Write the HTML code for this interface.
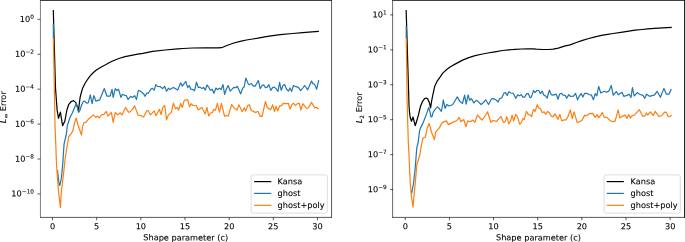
<!DOCTYPE html>
<html lang="en"><head><meta charset="utf-8"><title>Error vs shape parameter</title>
<style>html,body{margin:0;padding:0;background:#fff;}svg{display:block;}text{text-rendering:geometricPrecision;font-family:"DejaVu Sans","Liberation Sans",sans-serif;fill:#000;stroke:#000;stroke-width:0.1px;}.t{font-size:8.20px;} .s{font-size:5.74px;} .i{font-style:oblique;}.ln{fill:none;stroke-width:1.21;stroke-linejoin:round;stroke-linecap:butt;}.sp{fill:none;stroke:#000;stroke-width:0.65;stroke-linecap:square;}.tk{stroke:#000;stroke-width:0.65;}</style></head><body>
<svg width="685" height="242" viewBox="0 0 685 242">
<rect width="685" height="242" fill="#fff"/>
<polyline class="ln" stroke="#000" points="53.30,10.00 55.50,88.00 56.30,99.00 57.20,110.60 58.50,118.20 60.40,112.20 62.60,125.60 64.80,121.30 66.90,110.00 68.80,104.30 71.30,101.50 73.50,100.60 75.70,102.40 77.60,107.40 78.55,110.90 79.20,104.30 80.10,97.50 80.75,94.75 82.60,88.20 84.80,83.80 86.70,80.75 89.00,77.40 91.70,74.20 94.00,72.00 96.70,69.80 99.60,68.00 102.70,66.30 105.60,64.75 109.00,62.80 112.60,61.00 118.80,58.50 125.10,56.60 131.40,55.30 137.70,54.20 143.00,53.30 152.60,51.40 165.10,50.00 177.70,48.90 183.00,48.50 192.60,48.00 205.10,47.75 217.70,47.80 221.50,47.70 227.60,45.20 233.80,43.00 240.10,41.35 246.40,40.00 252.70,39.00 258.00,38.20 267.60,36.35 280.10,34.65 292.70,33.50 302.60,32.70 315.10,31.70 318.90,31.45"/>
<polyline class="ln" stroke="#1f77b4" points="53.35,23.75 53.40,38.40"/>
<polyline class="ln" stroke="#1f77b4" points="57.50,170.00 57.90,174.00 58.70,181.00 59.30,185.30 59.90,185.20 60.90,180.60 61.50,177.00 62.90,162.00 63.70,149.00 64.10,144.00 66.40,134.00 67.30,125.60 69.80,118.00 72.30,113.00 75.10,106.20 76.40,103.30 77.60,108.70 78.60,112.40 79.80,110.60 81.40,105.50 83.30,101.50 84.20,101.10 87.00,103.30 88.30,102.70 90.30,94.90 92.10,103.60 93.80,95.50 95.90,101.10 99.60,99.90 104.30,88.50 107.00,96.20 110.10,96.20 112.00,89.30 113.20,97.40 115.30,88.70 117.00,90.60 118.60,89.30 120.90,97.40 122.50,94.30 125.00,95.50 126.20,95.40 128.10,99.50 130.60,96.30 132.40,97.50 134.70,95.70 136.50,99.50 138.30,90.50 139.90,90.80 143.60,93.80 145.20,96.30 146.70,93.00 148.30,93.30 151.10,88.90 152.50,88.40 154.20,90.10 155.80,84.60 157.50,86.40 160.40,86.70 162.60,88.60 164.70,86.50 166.60,91.30 168.40,88.20 169.90,89.60 173.40,87.40 177.70,90.10 180.60,82.80 182.30,86.10 185.80,81.40 187.70,87.70 189.30,85.50 190.80,89.20 193.20,89.60 194.50,90.80 196.50,82.20 198.20,87.40 200.40,87.40 201.90,88.60 203.50,87.40 205.30,90.10 206.90,85.00 208.50,86.80 210.40,90.20 212.20,89.20 213.90,93.30 215.90,88.00 217.40,89.60 219.60,88.20 221.10,89.60 223.00,84.50 224.60,94.50 226.30,89.20 228.20,85.50 230.20,91.10 233.80,87.30 235.80,87.70 237.30,86.30 240.70,93.90 242.80,88.00 244.10,87.10 245.90,78.00 248.10,83.60 249.30,84.90 251.20,83.40 253.40,86.10 255.20,86.10 258.30,80.50 260.20,88.60 262.10,85.50 263.60,84.90 265.50,87.60 267.00,87.30 268.90,84.60 270.80,90.40 272.60,87.60 274.10,87.00 276.00,88.60 278.00,91.30 279.60,82.40 281.20,90.40 282.90,85.80 284.60,84.40 286.50,89.20 288.50,91.10 290.00,88.00 291.60,91.40 293.50,85.50 295.90,86.70 298.40,87.30 300.70,90.70 302.80,88.00 304.60,85.50 307.70,89.80 311.50,81.10 312.90,83.60 314.60,84.20 316.70,89.20 318.70,80.10"/>
<polyline class="ln" stroke="#ff7f0e" points="53.40,38.00 55.00,125.00 56.00,150.00 56.40,162.00 57.40,177.00 58.50,191.00 60.40,207.50 61.40,191.00 63.20,177.00 64.80,162.00 66.60,149.00 68.80,136.50 71.10,133.70 72.90,130.60 73.40,128.20 75.10,121.30 76.30,118.00 77.80,124.50 81.50,135.00 82.60,126.30 84.20,122.60 86.20,122.20 88.40,119.20 93.40,114.90 95.90,117.40 97.70,116.10 99.20,118.00 101.50,114.90 103.90,114.30 106.20,111.40 107.90,116.10 111.40,112.40 113.20,122.30 115.30,112.40 117.60,114.90 120.30,112.80 121.90,114.90 125.60,107.60 128.40,111.80 129.30,112.40 132.40,109.60 134.70,105.90 138.00,115.10 141.10,115.70 143.60,117.00 147.00,110.50 148.60,111.10 150.40,114.90 154.20,110.90 156.00,115.70 159.50,109.30 161.00,114.60 162.80,107.40 164.70,105.50 166.60,119.80 168.40,114.90 171.50,112.10 173.40,103.10 175.50,108.90 177.10,107.40 178.70,110.10 180.60,103.40 182.30,107.40 184.20,100.30 187.70,99.60 189.50,106.80 191.10,103.70 193.00,105.50 196.30,105.50 198.20,109.90 201.90,107.40 205.20,113.90 206.90,107.40 208.70,115.80 210.60,113.00 212.40,112.40 213.90,109.30 215.50,110.10 217.40,103.40 219.50,112.10 221.40,103.40 224.60,116.30 226.30,115.50 228.20,116.10 231.70,104.70 234.20,108.00 237.00,110.10 238.90,104.70 242.20,111.70 244.30,107.80 245.70,111.10 247.80,105.50 249.40,104.70 251.20,110.30 255.20,112.40 258.10,111.50 260.20,116.30 262.10,116.30 265.40,101.50 267.40,107.70 270.80,109.60 272.60,104.70 274.50,111.70 276.00,106.20 277.60,110.90 279.70,105.90 281.30,105.90 283.20,103.40 285.60,103.70 288.30,103.30 290.10,109.00 291.80,104.90 293.50,103.10 295.30,105.50 297.80,103.40 299.30,103.40 300.90,110.10 302.80,103.70 306.50,108.40 308.30,108.00 311.50,102.40 314.80,108.00 316.40,107.40 318.70,108.90"/>
<line class="tk" x1="52.55" y1="217.40" x2="52.55" y2="220.23"/>
<text class="t" x="52.55" y="229.3" text-anchor="middle" transform="rotate(0.03 52.55 229.3)">0</text>
<line class="tk" x1="96.70" y1="217.40" x2="96.70" y2="220.23"/>
<text class="t" x="96.70" y="229.3" text-anchor="middle" transform="rotate(0.03 96.70 229.3)">5</text>
<line class="tk" x1="140.85" y1="217.40" x2="140.85" y2="220.23"/>
<text class="t" x="140.85" y="229.3" text-anchor="middle" transform="rotate(0.03 140.85 229.3)">10</text>
<line class="tk" x1="185.00" y1="217.40" x2="185.00" y2="220.23"/>
<text class="t" x="185.00" y="229.3" text-anchor="middle" transform="rotate(0.03 185.00 229.3)">15</text>
<line class="tk" x1="229.15" y1="217.40" x2="229.15" y2="220.23"/>
<text class="t" x="229.15" y="229.3" text-anchor="middle" transform="rotate(0.03 229.15 229.3)">20</text>
<line class="tk" x1="273.30" y1="217.40" x2="273.30" y2="220.23"/>
<text class="t" x="273.30" y="229.3" text-anchor="middle" transform="rotate(0.03 273.30 229.3)">25</text>
<line class="tk" x1="317.45" y1="217.40" x2="317.45" y2="220.23"/>
<text class="t" x="317.45" y="229.3" text-anchor="middle" transform="rotate(0.03 317.45 229.3)">30</text>
<line class="tk" x1="40.30" y1="19.30" x2="37.47" y2="19.30"/>
<text class="t" x="33.97" y="21.95" text-anchor="end" transform="rotate(0.03 33.97 21.95)">10<tspan class="s" dx="0.1" dy="-3.15">0</tspan></text>
<line class="tk" x1="40.30" y1="54.23" x2="37.47" y2="54.23"/>
<text class="t" x="33.97" y="56.88" text-anchor="end" transform="rotate(0.03 33.97 56.88)">10<tspan class="s" dx="0.1" dy="-3.15">−2</tspan></text>
<line class="tk" x1="40.30" y1="89.16" x2="37.47" y2="89.16"/>
<text class="t" x="33.97" y="91.81" text-anchor="end" transform="rotate(0.03 33.97 91.81)">10<tspan class="s" dx="0.1" dy="-3.15">−4</tspan></text>
<line class="tk" x1="40.30" y1="124.09" x2="37.47" y2="124.09"/>
<text class="t" x="33.97" y="126.74" text-anchor="end" transform="rotate(0.03 33.97 126.74)">10<tspan class="s" dx="0.1" dy="-3.15">−6</tspan></text>
<line class="tk" x1="40.30" y1="159.02" x2="37.47" y2="159.02"/>
<text class="t" x="33.97" y="161.67" text-anchor="end" transform="rotate(0.03 33.97 161.67)">10<tspan class="s" dx="0.1" dy="-3.15">−8</tspan></text>
<line class="tk" x1="40.30" y1="193.95" x2="37.47" y2="193.95"/>
<text class="t" x="33.97" y="196.60" text-anchor="end" transform="rotate(0.03 33.97 196.60)">10<tspan class="s" dx="0.1" dy="-3.15">−10</tspan></text>
<line x1="40.45" y1="0.05" x2="40.45" y2="217.72" stroke="#000" stroke-width="0.5"/>
<line x1="331.55" y1="0.05" x2="331.55" y2="217.72" stroke="#000" stroke-width="0.65"/>
<line x1="40.2" y1="0.45" x2="331.875" y2="0.45" stroke="#000" stroke-width="0.8"/>
<line x1="40.2" y1="217.4" x2="331.875" y2="217.4" stroke="#000" stroke-width="0.65"/>
<text class="t" x="185.75" y="240.4" text-anchor="middle" transform="rotate(0.03 185.75 240.4)">Shape parameter (c)</text>
<text class="t" transform="translate(6.00,107.20) rotate(-90)" text-anchor="middle"><tspan class="i">L</tspan><tspan class="s" dy="1.6">∞</tspan><tspan dy="-1.6"> Error</tspan></text>
<rect x="251.20" y="174.90" width="76.10" height="38.20" rx="1.6" ry="1.6" fill="#fff" fill-opacity="0.8" stroke="#ccc" stroke-opacity="0.8" stroke-width="0.81"/>
<line x1="254.15" y1="181.60" x2="271.34" y2="181.60" stroke="#000" stroke-width="1.21" stroke-linecap="butt"/>
<text class="t" x="277.62" y="184.30" transform="rotate(0.03 277.62 184.30)">Kansa</text>
<line x1="254.15" y1="193.40" x2="271.34" y2="193.40" stroke="#1f77b4" stroke-width="1.21" stroke-linecap="butt"/>
<text class="t" x="277.62" y="196.10" transform="rotate(0.03 277.62 196.10)">ghost</text>
<line x1="254.15" y1="205.30" x2="271.34" y2="205.30" stroke="#ff7f0e" stroke-width="1.21" stroke-linecap="butt"/>
<text class="t" x="277.62" y="208.00" transform="rotate(0.03 277.62 208.00)">ghost+poly</text>
<polyline class="ln" stroke="#000" points="406.15,9.90 408.50,88.00 409.00,105.00 409.60,113.20 410.20,117.50 411.50,121.30 413.00,117.00 415.20,125.70 417.10,119.80 418.50,114.60 420.60,106.00 422.50,101.40 424.65,98.60 426.20,98.00 427.80,98.90 429.40,102.70 430.60,108.00 431.55,101.40 432.80,95.10 433.40,92.40 434.75,86.20 436.95,81.45 439.20,78.30 442.55,73.40 446.95,69.30 451.30,66.20 455.10,64.10 462.55,60.10 468.80,57.60 475.10,55.70 481.40,54.25 487.70,53.00 493.00,52.20 496.30,51.55 502.55,50.50 508.80,49.85 515.10,49.35 521.40,49.00 527.70,48.90 533.00,48.95 536.30,49.20 542.55,49.50 548.80,49.50 553.20,49.20 558.25,48.05 564.50,46.15 570.00,44.90 576.30,42.55 582.55,40.35 588.80,38.50 595.10,36.80 601.40,35.45 607.70,34.30 613.00,33.50 622.55,32.05 635.10,30.15 642.00,29.50 647.70,28.90 654.55,28.35 667.10,27.55 671.80,27.30"/>
<polyline class="ln" stroke="#1f77b4" points="406.20,25.80 406.25,38.40"/>
<polyline class="ln" stroke="#1f77b4" points="411.30,190.50 411.70,193.35 413.50,183.50 415.10,169.40 416.20,155.40 416.80,147.90 418.20,142.00 419.00,135.50 419.60,130.75 420.60,127.60 423.10,122.90 424.30,119.75 426.30,114.60 428.70,107.50 430.00,111.90 430.90,116.60 431.90,116.90 433.10,112.50 435.00,109.40 437.50,106.90 439.40,108.80 441.30,111.30 442.60,105.00 443.30,99.80 445.10,108.50 446.80,104.40 448.90,106.00 452.60,104.70 457.30,96.90 460.00,101.60 462.50,103.50 464.60,95.20 466.20,104.10 468.10,94.80 469.70,100.40 471.20,98.50 473.90,102.90 476.20,100.40 478.00,101.30 481.10,104.50 483.60,102.30 485.70,99.80 488.50,104.50 491.30,99.20 493.50,98.60 496.00,99.80 498.10,102.00 499.70,98.60 501.60,98.00 504.10,93.00 505.50,92.60 507.20,95.50 508.80,91.70 510.90,93.00 513.40,93.40 515.80,98.30 517.70,94.90 519.60,95.80 521.10,94.60 522.90,97.10 524.50,97.10 526.80,93.60 528.20,93.60 530.10,97.70 531.30,97.10 533.60,90.50 535.10,92.60 536.90,90.50 538.80,90.50 540.40,93.60 542.10,91.10 543.80,94.90 545.60,96.10 547.20,98.00 549.30,90.10 551.20,94.60 553.10,95.10 556.20,94.20 558.00,99.20 559.70,94.00 561.50,93.40 563.20,95.20 565.20,95.40 566.70,98.30 568.80,94.60 570.40,96.30 573.50,96.10 575.60,93.30 577.50,99.80 579.30,96.10 581.20,93.60 582.80,97.00 584.70,93.30 586.80,93.30 589.00,94.60 591.30,94.80 593.40,99.80 595.20,93.60 596.80,95.80 598.70,86.40 600.80,93.00 604.20,91.30 606.40,92.30 608.90,91.10 611.30,85.50 613.20,95.20 616.30,91.70 618.40,94.80 621.90,92.30 623.80,96.30 626.90,95.40 629.10,94.20 631.00,97.50 632.45,87.60 634.20,96.00 637.30,92.60 639.50,94.20 642.90,95.40 644.70,98.30 646.50,94.20 649.60,96.30 654.60,94.80 657.10,91.30 660.40,97.30 663.90,88.40 666.40,94.20 668.90,94.20 671.30,88.90"/>
<polyline class="ln" stroke="#ff7f0e" points="406.25,38.00 407.10,100.00 407.50,113.00 407.70,122.00 408.00,131.00 408.30,142.00 409.00,155.00 409.60,169.00 410.25,183.00 411.50,197.00 413.00,207.10 413.90,197.00 415.25,183.00 416.50,169.00 416.80,165.00 419.65,155.50 422.20,141.00 423.10,138.00 425.30,137.10 426.50,132.40 427.20,128.00 429.05,123.50 430.60,128.55 431.25,131.50 434.40,139.60 435.60,132.40 437.50,129.90 439.40,127.90 440.70,125.40 442.20,122.60 444.40,121.65 446.40,120.90 448.50,124.60 452.60,122.40 456.90,120.50 459.20,117.40 460.90,121.70 463.80,119.60 466.00,126.70 467.70,120.90 470.00,121.70 473.10,120.10 474.90,122.40 477.40,114.90 480.50,118.50 482.00,120.10 485.40,115.50 487.60,111.80 490.80,122.30 492.90,120.50 496.60,121.30 501.00,116.40 503.40,122.30 505.00,122.10 506.80,116.70 508.80,123.80 510.50,121.10 512.10,115.10 513.70,121.10 515.80,114.30 517.70,117.40 519.60,124.20 521.20,122.90 522.90,118.60 524.20,119.60 526.40,111.40 528.30,114.60 530.10,114.90 531.60,116.70 533.50,109.30 535.10,111.40 537.20,104.70 538.80,108.10 540.40,108.40 542.30,112.70 544.10,111.80 545.60,114.30 547.70,111.40 549.30,112.70 551.20,116.10 553.10,116.70 554.90,113.90 558.00,119.40 559.90,114.30 561.70,120.80 564.20,119.90 566.10,119.90 567.90,116.70 570.40,109.90 572.30,118.60 574.10,111.80 577.20,122.60 579.70,121.70 582.20,119.90 584.70,115.10 586.30,115.90 589.60,113.60 592.70,113.40 595.20,117.40 597.10,114.60 598.70,117.60 600.80,115.10 602.40,112.40 604.20,117.40 607.00,117.40 610.10,120.50 612.60,121.70 615.10,121.10 618.20,109.90 619.80,118.00 621.90,116.40 625.40,115.10 626.90,118.40 628.70,114.60 630.30,118.00 632.40,115.50 634.30,115.10 639.40,109.70 642.70,116.30 644.70,115.90 646.50,113.00 647.80,115.10 650.20,111.80 653.30,115.50 655.20,111.40 658.90,116.40 662.00,115.50 664.50,112.20 666.40,112.40 668.00,116.10 669.50,116.70 671.70,114.90"/>
<line class="tk" x1="405.25" y1="217.40" x2="405.25" y2="220.23"/>
<text class="t" x="405.25" y="229.3" text-anchor="middle" transform="rotate(0.03 405.25 229.3)">0</text>
<line class="tk" x1="449.40" y1="217.40" x2="449.40" y2="220.23"/>
<text class="t" x="449.40" y="229.3" text-anchor="middle" transform="rotate(0.03 449.40 229.3)">5</text>
<line class="tk" x1="493.55" y1="217.40" x2="493.55" y2="220.23"/>
<text class="t" x="493.55" y="229.3" text-anchor="middle" transform="rotate(0.03 493.55 229.3)">10</text>
<line class="tk" x1="537.70" y1="217.40" x2="537.70" y2="220.23"/>
<text class="t" x="537.70" y="229.3" text-anchor="middle" transform="rotate(0.03 537.70 229.3)">15</text>
<line class="tk" x1="581.85" y1="217.40" x2="581.85" y2="220.23"/>
<text class="t" x="581.85" y="229.3" text-anchor="middle" transform="rotate(0.03 581.85 229.3)">20</text>
<line class="tk" x1="626.00" y1="217.40" x2="626.00" y2="220.23"/>
<text class="t" x="626.00" y="229.3" text-anchor="middle" transform="rotate(0.03 626.00 229.3)">25</text>
<line class="tk" x1="670.15" y1="217.40" x2="670.15" y2="220.23"/>
<text class="t" x="670.15" y="229.3" text-anchor="middle" transform="rotate(0.03 670.15 229.3)">30</text>
<line class="tk" x1="393.00" y1="14.90" x2="390.17" y2="14.90"/>
<text class="t" x="386.67" y="17.55" text-anchor="end" transform="rotate(0.03 386.67 17.55)">10<tspan class="s" dx="0.1" dy="-3.15">1</tspan></text>
<line class="tk" x1="393.00" y1="49.83" x2="390.17" y2="49.83"/>
<text class="t" x="386.67" y="52.48" text-anchor="end" transform="rotate(0.03 386.67 52.48)">10<tspan class="s" dx="0.1" dy="-3.15">−1</tspan></text>
<line class="tk" x1="393.00" y1="84.76" x2="390.17" y2="84.76"/>
<text class="t" x="386.67" y="87.41" text-anchor="end" transform="rotate(0.03 386.67 87.41)">10<tspan class="s" dx="0.1" dy="-3.15">−3</tspan></text>
<line class="tk" x1="393.00" y1="119.69" x2="390.17" y2="119.69"/>
<text class="t" x="386.67" y="122.34" text-anchor="end" transform="rotate(0.03 386.67 122.34)">10<tspan class="s" dx="0.1" dy="-3.15">−5</tspan></text>
<line class="tk" x1="393.00" y1="154.62" x2="390.17" y2="154.62"/>
<text class="t" x="386.67" y="157.27" text-anchor="end" transform="rotate(0.03 386.67 157.27)">10<tspan class="s" dx="0.1" dy="-3.15">−7</tspan></text>
<line class="tk" x1="393.00" y1="189.55" x2="390.17" y2="189.55"/>
<text class="t" x="386.67" y="192.20" text-anchor="end" transform="rotate(0.03 386.67 192.20)">10<tspan class="s" dx="0.1" dy="-3.15">−9</tspan></text>
<line x1="392.6" y1="0.05" x2="392.6" y2="217.72" stroke="#000" stroke-width="0.6"/>
<line x1="684.5" y1="0.05" x2="684.5" y2="217.72" stroke="#000" stroke-width="0.85"/>
<line x1="392.3" y1="0.45" x2="684.925" y2="0.45" stroke="#000" stroke-width="0.8"/>
<line x1="392.3" y1="217.4" x2="684.925" y2="217.4" stroke="#000" stroke-width="0.65"/>
<text class="t" x="538.45" y="240.4" text-anchor="middle" transform="rotate(0.03 538.45 240.4)">Shape parameter (c)</text>
<text class="t" transform="translate(362.20,107.80) rotate(-90)" text-anchor="middle"><tspan class="i">L</tspan><tspan class="s" dy="1.6">2</tspan><tspan dy="-1.6"> Error</tspan></text>
<rect x="604.20" y="174.90" width="76.10" height="38.20" rx="1.6" ry="1.6" fill="#fff" fill-opacity="0.8" stroke="#ccc" stroke-opacity="0.8" stroke-width="0.81"/>
<line x1="606.70" y1="181.60" x2="623.89" y2="181.60" stroke="#000" stroke-width="1.21" stroke-linecap="butt"/>
<text class="t" x="630.62" y="184.30" transform="rotate(0.03 630.62 184.30)">Kansa</text>
<line x1="606.70" y1="193.40" x2="623.89" y2="193.40" stroke="#1f77b4" stroke-width="1.21" stroke-linecap="butt"/>
<text class="t" x="630.62" y="196.10" transform="rotate(0.03 630.62 196.10)">ghost</text>
<line x1="606.70" y1="205.30" x2="623.89" y2="205.30" stroke="#ff7f0e" stroke-width="1.21" stroke-linecap="butt"/>
<text class="t" x="630.62" y="208.00" transform="rotate(0.03 630.62 208.00)">ghost+poly</text>
</svg></body></html>
